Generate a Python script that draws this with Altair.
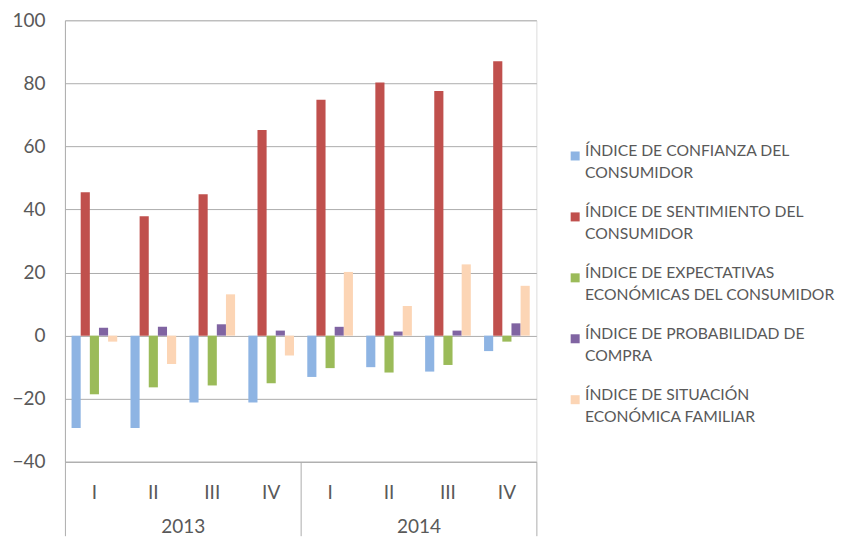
import altair as alt
import pandas as pd

years = ["2013", "2013", "2013", "2013", "2014", "2014", "2014", "2014"]
quarters = ["I", "II", "III", "IV", "I", "II", "III", "IV"]

series = [
    "ÍNDICE DE CONFIANZA DEL\nCONSUMIDOR",
    "ÍNDICE DE SENTIMIENTO DEL\nCONSUMIDOR",
    "ÍNDICE DE EXPECTATIVAS\nECONÓMICAS DEL CONSUMIDOR",
    "ÍNDICE DE PROBABILIDAD DE\nCOMPRA",
    "ÍNDICE DE SITUACIÓN\nECONÓMICA FAMILIAR",
]
colors = ["#8EB4E3", "#C0504D", "#9BBB59", "#8064A2", "#FCD5B5"]

confianza = [-29.3, -29.3, -21.2, -21.2, -13.1, -10.0, -11.4, -4.9]
sentimiento = [45.5, 37.9, 44.8, 65.2, 74.8, 80.3, 77.6, 87.0]
expectativas = [-18.6, -16.4, -15.8, -15.1, -10.3, -11.7, -9.3, -1.9]
probabilidad = [2.5, 2.8, 3.6, 1.6, 2.8, 1.3, 1.6, 3.9]
situacion = [-1.9, -9.0, 13.1, -6.3, 20.2, 9.4, 22.6, 15.8]

values = [confianza, sentimiento, expectativas, probabilidad, situacion]

rows = []
for i in range(len(years)):
    for s, vals in zip(series, values):
        rows.append({"year": years[i], "quarter": quarters[i],
                     "key": f"{years[i]} {quarters[i]}", "series": s, "value": vals[i]})
df = pd.DataFrame(rows)
keys = [f"{y} {q}" for y, q in zip(years, quarters)]

GRID = "#ADADAD"
TXT = "#595959"
FONT = "Lato"

bars = alt.Chart(df).mark_bar().encode(
    x=alt.X("key:N", sort=keys, title=None,
            scale=alt.Scale(paddingInner=0.225, paddingOuter=0.1125),
            axis=alt.Axis(orient="bottom", labelExpr="split(datum.label, ' ')[1]",
                          ticks=False, domain=True, domainColor=GRID,
                          labelPadding=31, labelBaseline="middle", labelAngle=0,
                          labelFont=FONT, labelFontSize=19, labelColor=TXT,
                          grid=False)),
    xOffset=alt.XOffset("series:N", sort=series, scale=alt.Scale(paddingInner=0, paddingOuter=0)),
    y=alt.Y("value:Q", title=None,
            scale=alt.Scale(domain=[-40, 100], nice=False, zero=False),
            axis=alt.Axis(values=[-40, -20, 0, 20, 40, 60, 80, 100], grid=True,
                          gridColor=GRID, gridWidth=1, ticks=False,
                          domain=True, domainColor=GRID, labelPadding=20,
                          labelFont=FONT, labelFontSize=19, labelColor=TXT,
                          minExtent=57, maxExtent=57)),
    color=alt.Color("series:N", sort=series, title=None,
                    scale=alt.Scale(domain=series, range=colors),
                    legend=alt.Legend(orient="none", legendX=503, legendY=128,
                                      symbolType="square", symbolSize=81,
                                      symbolStrokeWidth=0, labelOffset=2,
                                      labelFont=FONT, labelFontSize=15.7, labelColor=TXT,
                                      labelLimit=400, rowPadding=22,
                                      labelBaseline="alphabetic",
                                      labelExpr="split(datum.label, '\\n')")),
)

yearaxis = alt.Chart(df).mark_rule(opacity=0).encode(
    x=alt.X("year:N", title=None,
            scale=alt.Scale(paddingInner=0, paddingOuter=0),
            axis=alt.Axis(orient="bottom", tickBand="extent", ticks=True, tickSize=74,
                          tickColor=GRID, tickWidth=1, domain=False, grid=False,
                          labelPadding=-9, labelBaseline="middle", labelAngle=0,
                          labelFont=FONT, labelFontSize=19, labelColor=TXT)),
)

chart = alt.layer(bars, yearaxis).resolve_scale(x="independent").properties(
    width=472, height=442,
    padding={"left": 0, "top": 3, "right": 0, "bottom": 0},
    background="white",
).configure_view(stroke=None).configure(style={"guide-label": {"lineHeight": 22}})

chart.save("out.html", embed_options={"renderer": "svg", "actions": False})
